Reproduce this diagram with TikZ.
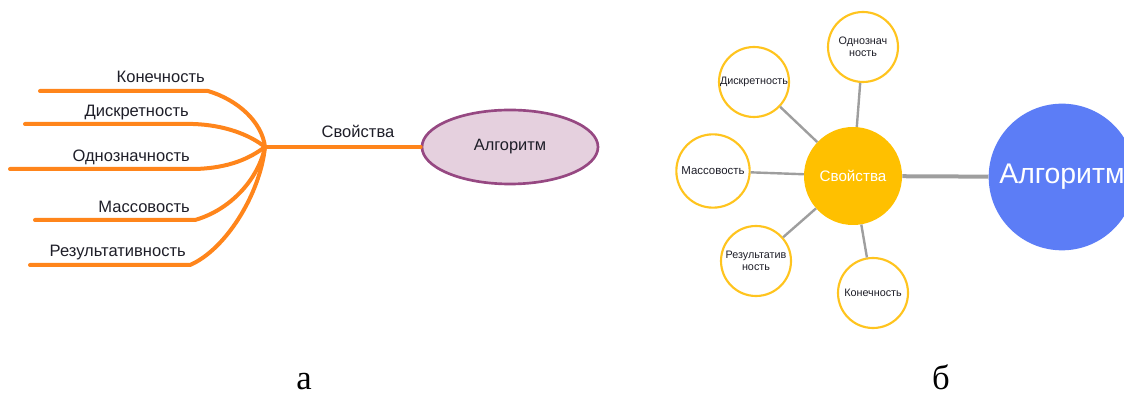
\documentclass[tikz,border=0pt]{standalone}
\usepackage{fontspec}
\setmainfont{Liberation Sans}
\newfontfamily\capfont{Liberation Serif}
\usetikzlibrary{shapes.geometric}
\definecolor{orln}{RGB}{255,133,27}
\definecolor{elfill}{RGB}{229,208,222}
\definecolor{eldraw}{RGB}{150,72,130}
\definecolor{amber}{RGB}{255,192,0}
\definecolor{ambline}{RGB}{255,196,30}
\definecolor{gln}{RGB}{158,158,158}
\definecolor{bluec}{RGB}{92,125,246}
\definecolor{txt}{RGB}{30,30,40}
\tikzset{
  oline/.style={draw=orln, line width=3pt, line cap=round, line join=round},
  lbl/.style={font=\fontsize{12.4}{14}\selectfont, text=txt, inner sep=0pt},
  small/.style={circle, draw=ambline, fill=white, line width=1.6pt, minimum size=52.5pt, inner sep=0pt},
  stxt/.style={font=\fontsize{8.1}{9.3}\selectfont, text=txt, align=center},
  gline/.style={draw=gln, line width=1.8pt},
  capt/.style={font=\capfont\fontsize{26}{26}\selectfont, anchor=base, inner sep=0pt}
}
\begin{document}
\begin{tikzpicture}[x=0.75pt,y=-0.75pt]
\useasboundingbox (0,0) rectangle (1124,398);
\begin{scope}
\clip (0,0) rectangle (1124,398);
% ---------- left diagram ----------
\coordinate (hub) at (265,147);
\coordinate (k0) at (40,91);  \coordinate (k1) at (208,91);
\coordinate (d0) at (25,124); \coordinate (d1) at (193,124);
\coordinate (o0) at (10,169); \coordinate (o1) at (195,169);
\coordinate (m0) at (35,220); \coordinate (m1) at (195,220);
\coordinate (r0) at (30,265); \coordinate (r1) at (190,265);
\draw[oline] (k0) -- (k1) .. controls (238,100) and (262,122) .. (hub);
\draw[oline] (d0) -- (d1) .. controls (225,125) and (250,135) .. (hub);
\draw[oline] (o0) -- (o1) .. controls (230,168) and (250,158) .. (hub);
\draw[oline] (m0) -- (m1) .. controls (230,210) and (258,180) .. (hub);
\draw[oline] (r0) -- (r1) .. controls (225,250) and (260,195) .. (hub);
\node[lbl, anchor=base east] (kl) at (205,83) {Конечность};
\node[lbl, anchor=base east] (dl) at (189,117) {Дискретность};
\node[lbl, anchor=base east] (ol) at (190,162) {Однозначность};
\node[lbl, anchor=base east] (ml) at (190,213) {Массовость};
\node[lbl, anchor=base east] (rl) at (186,257) {Результативность};
\node[ellipse, draw=eldraw, fill=elfill, line width=2pt, minimum width=132pt, minimum height=55.5pt, inner sep=0pt,
      font=\fontsize{12.3}{14}\selectfont, text=txt] (alg1) at (510,147) {Алгоритм};
\draw[oline] (hub) -- (alg1.west);
\node[lbl, anchor=base] (svl) at (358,138) {Свойства};
% ---------- right diagram ----------
\node[circle, fill=amber, minimum size=73.5pt, inner sep=0pt, text=white,
      font=\fontsize{11.4}{13}\selectfont] (sv) at (853,176) {Свойства};
\node[circle, fill=bluec, minimum size=110pt, inner sep=0pt, text=white,
      font=\fontsize{21.3}{24}\selectfont] (alg2) at (1062,177) {Алгоритм};
\node[small] (c1) at (863,47) {};
\node[small] (c2) at (754,82) {};
\node[small, minimum size=55pt] (c3) at (713,171) {};
\node[small] (c4) at (756,261) {};
\node[small] (c5) at (873,293) {};
\node[stxt] (t1) at (c1) {Однознач\\ность};
\node[stxt] (t2) at (c2) {Дискретность};
\node[stxt, font=\fontsize{8.6}{9.6}\selectfont] (t3) at (c3) {Массовость};
\node[stxt] (t4) at (c4) {Результатив\\ность};
\node[stxt] (t5) at (c5) {Конечность};
\draw[gline] (c1) -- (sv);
\draw[gline] (c2) -- (sv);
\draw[gline] (c3) -- (sv);
\draw[gline] (c4) -- (sv);
\draw[gline] (c5) -- (sv);
\draw[draw=gln, line width=3pt] (sv) -- (alg2);
% ---------- captions ----------
\node[capt] (ca) at (304,390) {а};
\node[capt] (cb) at (941,390) {б};
\end{scope}
\end{tikzpicture}
\end{document}
